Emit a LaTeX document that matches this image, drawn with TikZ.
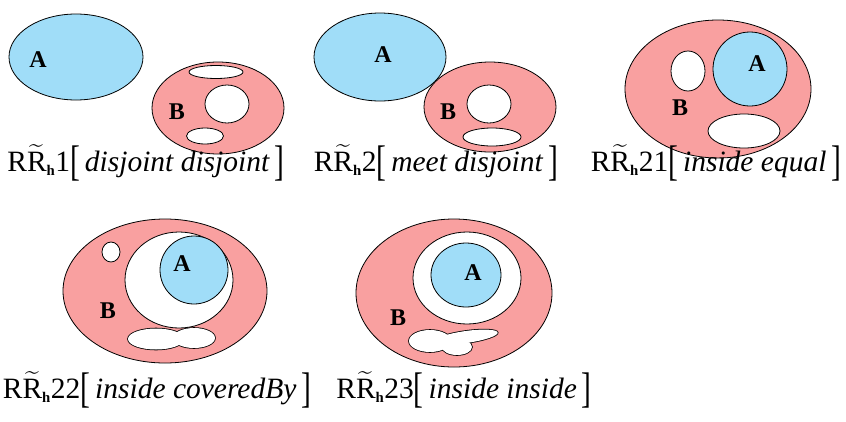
\documentclass[tikz,border=0pt]{standalone}
\usepackage{fontspec}
\setmainfont{Liberation Serif}[ItalicFont={Liberation Serif Italic}, BoldFont={Liberation Serif Bold}]
\usepackage{amsmath}
\usepackage{graphicx}
\definecolor{regA}{RGB}{160,221,248}
\definecolor{regB}{RGB}{249,160,160}
\tikzstyle{regiona} = [draw = black, fill = regA, line width=0.8pt]
\tikzstyle{regionb} = [draw = black, fill = regB, line width=0.8pt]
\tikzstyle{hole} = [draw = black, fill = white, line width=0.8pt]
\tikzstyle{blob} = [draw = black, fill = white, line width=1.6pt]
\tikzstyle{lab} = [font=\fontsize{24}{28}\selectfont\bfseries, inner sep=0pt]
\tikzstyle{caption} = [font=\fontsize{29.5}{35}\selectfont, inner sep=0pt]
\newcommand{\rrlabel}[2]{R$\widetilde{\text{R}}_{\scriptscriptstyle\text{\bfseries h}}$#1\raisebox{-4pt}{\scalebox{1}[1.45]{[}}\,\textit{#2}\,\raisebox{-4pt}{\scalebox{1}[1.45]{]}}}

\begin{document}
\begin{tikzpicture}[x=1pt, y=-1pt]
\useasboundingbox (0,0) rectangle (846,421);
%RR_h1: disjoint disjoint
\draw [regiona] (76,57) ellipse [x radius=67, y radius=43];
\draw [regionb] (218,108) ellipse [x radius=66, y radius=46];
\draw [hole] (216,72) ellipse [x radius=27, y radius=6.5];
\draw [hole] (227,104) ellipse [x radius=22, y radius=19];
\draw [hole] (205,136) ellipse [x radius=18.5, y radius=8];
\node (a1) [lab] at (38,60) {A};
\node (b1) [lab] at (177,112) {B};
\node (cap1) [caption] at (146,163) {\rrlabel{1}{disjoint disjoint}};

%RR_h2: meet disjoint
\draw [regiona] (380,57) ellipse [x radius=66, y radius=44];
\draw [regionb] (490,107) ellipse [x radius=66, y radius=45];
\draw [hole] (489,104) ellipse [x radius=22, y radius=19];
\draw [hole] (492,137) ellipse [x radius=29, y radius=9];
\node (a2) [lab] at (383,55) {A};
\node (b2) [lab] at (448,112) {B};
\node (cap2) [caption] at (436,163) {\rrlabel{2}{meet disjoint}};

%RR_h21: inside equal
\draw [regionb] (718,89) ellipse [x radius=93, y radius=69];
\draw [hole] (688,71) ellipse [x radius=17, y radius=20];
\draw [regiona] (750,69) ellipse [x radius=37, y radius=37];
\draw [hole] (744,131) ellipse [x radius=36, y radius=17];
\node (a3) [lab] at (757,64) {A};
\node (b3) [lab] at (680,108) {B};
\node (cap3) [caption] at (716,163) {\rrlabel{21}{inside equal}};

%RR_h22: inside coveredBy
\draw [regionb] (165,291) ellipse [x radius=102, y radius=72];
\draw [hole] (111,252) ellipse [x radius=9, y radius=10];
\draw [hole] (179,280) ellipse [x radius=54, y radius=48];
\draw [regiona] (194,270) ellipse [x radius=34, y radius=34];
\draw [blob] (156,339) ellipse [x radius=28, y radius=10.5];
\draw [blob] (194,338) ellipse [x radius=21, y radius=10];
\fill [white] (156,339) ellipse [x radius=28, y radius=10.5];
\fill [white] (194,338) ellipse [x radius=21, y radius=10];
\node (a4) [lab] at (182,264) {A};
\node (b4) [lab] at (108,311) {B};
\node (cap4) [caption] at (157,390) {\rrlabel{22}{inside coveredBy}};

%RR_h23: inside inside
\draw [regionb] (454,293) ellipse [x radius=98, y radius=74];
\draw [hole] (467,278) ellipse [x radius=54, y radius=46];
\draw [regiona] (466,275) ellipse [x radius=35, y radius=32];
\draw [blob] (430,341) ellipse [x radius=21, y radius=11];
\draw [blob] (457,347) ellipse [x radius=15, y radius=8];
\draw [blob, shift={(466,337)}, rotate=8] (0,0) ellipse [x radius=32, y radius=6];
\fill [white] (430,341) ellipse [x radius=21, y radius=11];
\fill [white] (457,347) ellipse [x radius=15, y radius=8];
\fill [white, shift={(466,337)}, rotate=8] (0,0) ellipse [x radius=32, y radius=6];
\node (a5) [lab] at (473,273) {A};
\node (b5) [lab] at (398,318) {B};
\node (cap5) [caption] at (464,390) {\rrlabel{23}{inside inside}};
\end{tikzpicture}
\end{document}
